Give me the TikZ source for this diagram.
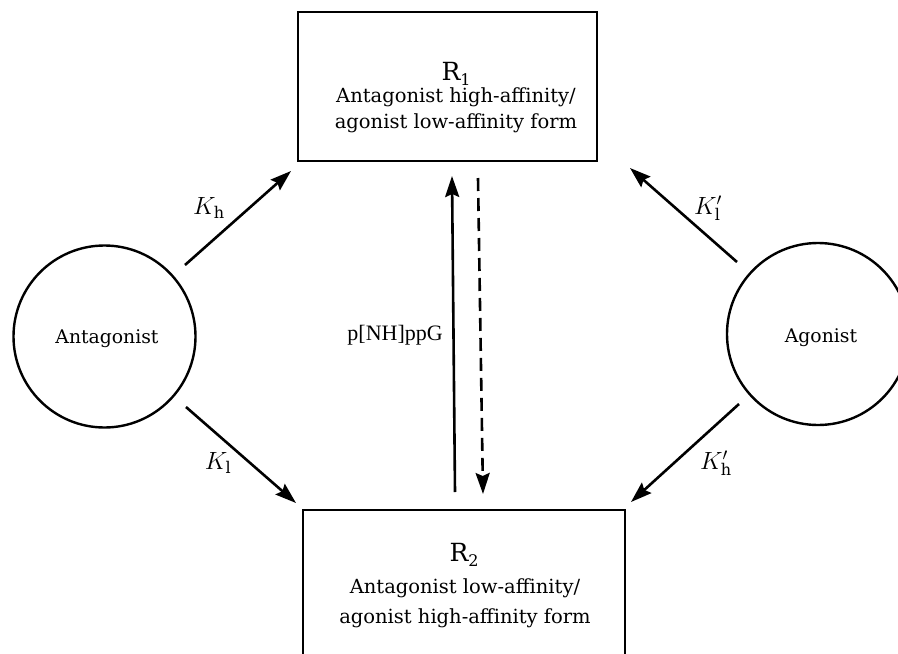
\documentclass[tikz,border=0pt]{standalone}
\usepackage{fontspec}
\setmainfont{DejaVu Serif}
\newfontfamily\timesfont{Liberation Serif}
\usetikzlibrary{arrows.meta}
\newcommand{\formname}[2]{{\fontsize{25}{28}\selectfont #1\raisebox{-5pt}{\fontsize{16}{16}\selectfont #2}}}
\tikzset{
  formbox/.style={draw, line width=2.8pt, rectangle, inner sep=0pt},
  formtext/.style={align=center, inner sep=0pt, font=\fontsize{19.5}{26}\selectfont},
  ligand/.style={draw, line width=2.4pt, circle, inner sep=0pt, font=\fontsize{18.8}{22}\selectfont},
  bindarrow/.style={line width=2.6pt, -{Stealth[length=21pt,width=14pt,inset=3pt]}},
  klabel/.style={font=\fontsize{23}{26}\selectfont, inner sep=0pt},
}
\begin{document}
\begin{tikzpicture}[x=1pt,y=-1pt]
\useasboundingbox (0,0) rectangle (898,654);
\clip (0,0) rectangle (898,654);
\fill[white] (0,0) rectangle (898,654);

\node[formbox, minimum width=299pt, minimum height=149pt] (r1) at (447.5,86.5) {};
\node[formbox, minimum width=322pt, minimum height=148pt] (r2) at (464,584) {};

\node[formtext, anchor=base] (r1name) at (456,80) {\formname{R}{1}};
\node[formtext, anchor=base] (r1desc) at (456,128) {Antagonist high-affinity/\\agonist low-affinity form};
\node[formtext, anchor=base] (r2name) at (464,561) {\formname{R}{2}};
\node[formtext, anchor=base, font=\fontsize{19.5}{30}\selectfont] (r2desc) at (465,623) {Antagonist low-affinity/\\agonist high-affinity form};

\node[ligand, minimum size=182pt] (ant) at (104.5,336.5) {};
\node[ligand, minimum size=182pt] (ago) at (818,334) {};
\node[ligand, draw=none, anchor=base] (antname) at (107,343) {Antagonist};
\node[ligand, draw=none, anchor=base] (agoname) at (821,342) {Agonist};

\coordinate (khs) at (185,265);
\coordinate (khe) at (291,171);
\coordinate (kls) at (186,407);
\coordinate (kle) at (296,503);
\coordinate (klps) at (737,262);
\coordinate (klpe) at (630,168);
\coordinate (khps) at (739,404);
\coordinate (khpe) at (631,502);
\coordinate (ups) at (455,492);
\coordinate (upe) at (452,176);
\coordinate (dns) at (478,178);
\coordinate (dne) at (483,494);

\draw[bindarrow] (khs) -- (khe);
\draw[bindarrow] (kls) -- (kle);
\draw[bindarrow] (klps) -- (klpe);
\draw[bindarrow] (khps) -- (khpe);
\draw[bindarrow] (ups) -- (upe);
\draw[bindarrow, dash pattern=on 13pt off 7pt] (dns) -- (dne);

\node[klabel] (lkh) at (209,208) {$K_{\mathrm{h}}$};
\node[klabel] (lkl) at (218,463) {$K_{\mathrm{l}}$};
\node[klabel] (lklp) at (708,208) {$K'_{\mathrm{l}}$};
\node[klabel] (lkhp) at (716,463) {$K'_{\mathrm{h}}$};
\node[font=\timesfont\fontsize{22}{24}\selectfont, anchor=east, inner sep=0pt] (gpp) at (443,335) {p[NH]ppG};
\end{tikzpicture}
\end{document}
